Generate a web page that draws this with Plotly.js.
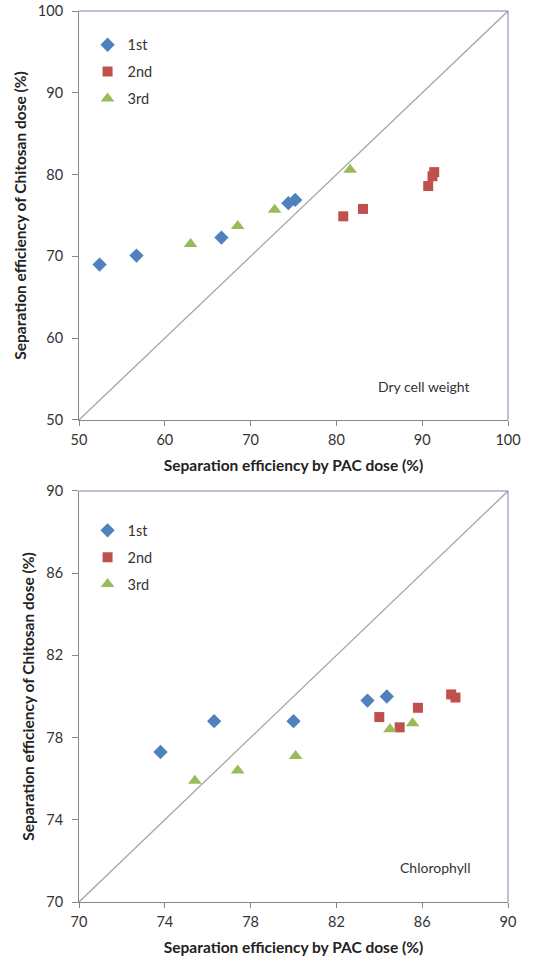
<!DOCTYPE html>
<html>
<head>
<meta charset="utf-8">
<script src="https://cdn.plot.ly/plotly-3.0.1.min.js"></script>
<style>
html,body{margin:0;padding:0;background:#fff;}
#chart{width:542px;height:962px;}
</style>
</head>
<body>
<div id="chart"></div>
<script>
// ---- Data: Dry cell weight (top panel) ----
const dcw1stX = [52.4, 56.7, 66.6, 74.4, 75.2];
const dcw1stY = [69.0, 70.1, 72.3, 76.5, 76.9];
const dcw2ndX = [80.8, 83.1, 90.7, 91.2, 91.4];
const dcw2ndY = [74.9, 75.8, 78.6, 79.8, 80.3];
const dcw3rdX = [63.0, 68.5, 72.8, 81.6];
const dcw3rdY = [71.5, 73.7, 75.7, 80.6];
const dcwRange = [50, 100];
const dcwTicks = [50, 60, 70, 80, 90, 100];

// ---- Data: Chlorophyll (bottom panel) ----
const chl1stX = [73.8, 76.3, 80.0, 83.45, 84.35];
const chl1stY = [77.3, 78.8, 78.8, 79.8, 80.0];
const chl2ndX = [84.0, 84.95, 85.8, 87.35, 87.55];
const chl2ndY = [79.0, 78.5, 79.45, 80.1, 79.95];
const chl3rdX = [75.4, 77.4, 80.1, 84.5, 85.55];
const chl3rdY = [75.9, 76.4, 77.1, 78.4, 78.7];
const chlRange = [70, 90];
const chlTicks = [70, 74, 78, 82, 86, 90];

const seriesNames = ["1st", "2nd", "3rd"];
const xTitle = "Separation efficiency by PAC dose (%)";
const yTitle = "Separation efficiency of Chitosan dose (%)";

const colors = ["#4F81BD", "#C0504D", "#9BBB59"];
const symbols = ["diamond", "square", "triangle-up"];
const sizes = [11, 10, 12];
const FONT = "Lato, 'Open Sans', sans-serif";

function pts(x, y, i, xa, ya, leg) {
  return {
    x: x, y: y, type: "scatter", mode: "markers", name: seriesNames[i],
    xaxis: xa, yaxis: ya, legend: leg, legendgroup: leg + i,
    marker: {color: colors[i], symbol: symbols[i], size: sizes[i], line: {width: 0}},
    cliponaxis: false
  };
}
function diag(r, xa, ya) {
  return {x: r, y: r, type: "scatter", mode: "lines", xaxis: xa, yaxis: ya,
    line: {color: "#A6A6A6", width: 1.3}, showlegend: false, hoverinfo: "skip"};
}

const data = [
  diag(dcwRange, "x", "y"),
  pts(dcw1stX, dcw1stY, 0, "x", "y", "legend"),
  pts(dcw2ndX, dcw2ndY, 1, "x", "y", "legend"),
  pts(dcw3rdX, dcw3rdY, 2, "x", "y", "legend"),
  diag(chlRange, "x2", "y2"),
  pts(chl1stX, chl1stY, 0, "x2", "y2", "legend2"),
  pts(chl2ndX, chl2ndY, 1, "x2", "y2", "legend2"),
  pts(chl3rdX, chl3rdY, 2, "x2", "y2", "legend2")
];

const tickFont = {family: FONT, size: 14.5, color: "#333"};
const titleFont = {family: FONT, size: 15.5, color: "#222", weight: "bold"};

function xax(r, t, anchor) {
  return {range: r, tickvals: t, anchor: anchor, domain: [0, 1], showgrid: false, zeroline: false,
    showline: true, linecolor: "#868686", linewidth: 1,
    ticks: "outside", ticklen: 5, tickcolor: "#868686", ticklabelstandoff: 2,
    tickfont: tickFont,
    title: {text: xTitle, font: titleFont, standoff: 12}};
}
function yax(r, t, anchor, dom) {
  return {range: r, tickvals: t, anchor: anchor, domain: dom, showgrid: false, zeroline: false,
    showline: true, linecolor: "#868686", linewidth: 1,
    ticks: "outside", ticklen: 6, tickcolor: "#868686", ticklabelstandoff: 6,
    tickfont: tickFont,
    title: {text: yTitle, font: titleFont, standoff: 7}};
}

const legendCommon = {xref: "paper", yref: "paper", xanchor: "left", yanchor: "top",
  bgcolor: "rgba(0,0,0,0)", font: {family: FONT, size: 14.5, color: "#333"},
  itemwidth: 30, tracegroupgap: 5};

const layout = {
  width: 542, height: 962,
  margin: {l: 79, r: 34, t: 11, b: 60},
  paper_bgcolor: "#fff", plot_bgcolor: "#fff",
  font: {family: FONT},
  xaxis: xax(dcwRange, dcwTicks, "y"),
  yaxis: yax(dcwRange, dcwTicks, "x", [0.541, 1]),
  xaxis2: xax(chlRange, chlTicks, "y2"),
  yaxis2: yax(chlRange, chlTicks, "x2", [0, 0.4613]),
  legend: Object.assign({x: 0.02, y: 0.980}, legendCommon),
  legend2: Object.assign({x: 0.02, y: 0.435}, legendCommon),
  shapes: [
    {type: "line", xref: "x domain", yref: "y domain", x0: 0, x1: 1, y0: 1, y1: 1, line: {color: "#7F7FAA", width: 1}},
    {type: "line", xref: "x domain", yref: "y domain", x0: 1, x1: 1, y0: 0, y1: 1, line: {color: "#7F7FAA", width: 1}},
    {type: "line", xref: "x2 domain", yref: "y2 domain", x0: 0, x1: 1, y0: 1, y1: 1, line: {color: "#7F7FAA", width: 1}},
    {type: "line", xref: "x2 domain", yref: "y2 domain", x0: 1, x1: 1, y0: 0, y1: 1, line: {color: "#7F7FAA", width: 1}}
  ],
  annotations: [
    {text: "Dry cell weight", xref: "x domain", yref: "y domain", x: 0.915, y: 0.083,
      xanchor: "right", yanchor: "middle", showarrow: false, font: {family: FONT, size: 14, color: "#333"}},
    {text: "Chlorophyll", xref: "x2 domain", yref: "y2 domain", x: 0.915, y: 0.083,
      xanchor: "right", yanchor: "middle", showarrow: false, font: {family: FONT, size: 14, color: "#333"}}
  ],
  showlegend: true
};

Plotly.newPlot("chart", data, layout, {displayModeBar: false, staticPlot: true});
</script>
</body>
</html>
